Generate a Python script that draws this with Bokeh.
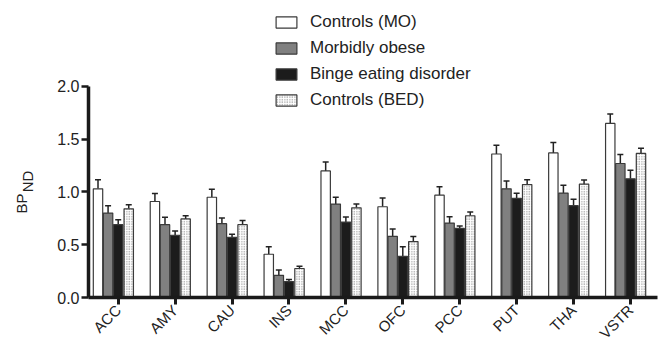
import numpy as np
from bokeh.plotting import figure
from bokeh.layouts import row
from bokeh.core.properties import value
from bokeh.models import (ColumnDataSource, FixedTicker, Range1d, Legend, LegendItem,
                          Whisker, TeeHead, NumeralTickFormatter)
from bokeh.embed import file_html
from bokeh.resources import INLINE

regions = ["ACC", "AMY", "CAU", "INS", "MCC", "OFC", "PCC", "PUT", "THA", "VSTR"]
groups = ["Controls (MO)", "Morbidly obese", "Binge eating disorder", "Controls (BED)"]

controls_mo = [1.03, 0.91, 0.95, 0.41, 1.20, 0.86, 0.97, 1.36, 1.37, 1.65]
controls_mo_err = [0.085, 0.076, 0.076, 0.07, 0.085, 0.082, 0.079, 0.082, 0.10, 0.088]
morbidly_obese = [0.80, 0.69, 0.70, 0.21, 0.885, 0.58, 0.705, 1.03, 0.99, 1.27]
morbidly_obese_err = [0.07, 0.07, 0.054, 0.05, 0.066, 0.07, 0.06, 0.073, 0.073, 0.085]
binge_eating = [0.69, 0.59, 0.57, 0.15, 0.715, 0.39, 0.655, 0.94, 0.87, 1.125]
binge_eating_err = [0.047, 0.04, 0.03, 0.02, 0.047, 0.09, 0.023, 0.047, 0.06, 0.082]
controls_bed = [0.84, 0.745, 0.69, 0.275, 0.85, 0.53, 0.775, 1.07, 1.075, 1.365]
controls_bed_err = [0.038, 0.03, 0.04, 0.022, 0.035, 0.047, 0.035, 0.045, 0.038, 0.05]

y_ticks = [0.0, 0.5, 1.0, 1.5, 2.0]
y_label_main = "BP"
y_label_sub = "ND"

series = [controls_mo, morbidly_obese, binge_eating, controls_bed]
errors = [controls_mo_err, morbidly_obese_err, binge_eating_err, controls_bed_err]
offsets = [-0.355, -0.178, 0.0, 0.185]
fills = ["white", "#808080", "#1c1c1c", "white"]
hatches = [None, None, None, "dot"]
FONT = "Liberation Sans"
TEXT = "#222222"

# ---- main chart ----
p = figure(frame_width=569, frame_height=289, output_backend="svg", toolbar_location=None,
           x_range=Range1d(-0.522, 9.475), y_range=Range1d(0, 2.739),
           min_border_left=48, min_border_top=8, min_border_right=5, min_border_bottom=5)
p.outline_line_color = None
p.grid.visible = False
p.background_fill_color = "white"

xs = np.arange(len(regions))
items = []
for vals, errs, off, fc, hp, name in zip(series, errors, offsets, fills, hatches, groups):
    src = ColumnDataSource(dict(x=xs + off, top=vals,
                                upper=np.array(vals) + np.array(errs), lower=vals))
    kw = {}
    if hp:
        kw = dict(hatch_pattern=hp, hatch_scale=2.5, hatch_color="#707070", hatch_weight=1)
    w = Whisker(source=src, base="x", upper="upper", lower="lower", dimension="height",
                line_color=TEXT, line_width=1.5, lower_head=None,
                upper_head=TeeHead(size=6, line_color=TEXT, line_width=1.5))
    p.add_layout(w)
    r = p.vbar(x="x", top="top", width=0.165, source=src, fill_color=fc,
               line_color="#3a3a3a", line_width=1.2, **kw)
    items.append(LegendItem(label=name, renderers=[r]))

legend = Legend(items=items, location=(185, 187), glyph_width=26, glyph_height=14,
                label_height=17, spacing=6, label_standoff=11, padding=0, margin=0,
                border_line_color=None, background_fill_alpha=0,
                label_text_font=FONT, label_text_font_size="17px", label_text_color=TEXT)
p.add_layout(legend)

p.yaxis.bounds = (0, 2)
p.yaxis.ticker = FixedTicker(ticks=y_ticks)
p.yaxis.formatter = NumeralTickFormatter(format="0.0")
p.xaxis.ticker = FixedTicker(ticks=list(xs))
p.xaxis.major_label_overrides = {int(i): r for i, r in zip(xs, regions)}
p.xaxis.major_label_orientation = np.pi / 4
p.yaxis.minor_tick_line_color = None
p.xaxis.minor_tick_line_color = None
for ax in (p.xaxis, p.yaxis):
    ax.axis_line_width = 3.5
    ax.axis_line_color = "#1a1a1a"
    ax.major_tick_line_color = "#1a1a1a"
    ax.major_tick_in = 0
    ax.major_tick_out = 7
    ax.major_label_text_font = FONT
    ax.major_label_text_color = TEXT
p.yaxis.major_tick_line_width = 2.5
p.xaxis.major_tick_line_width = 3
p.yaxis.major_label_text_font_size = "16px"
p.xaxis.major_label_text_font_size = "15px"
p.yaxis.major_label_standoff = 2
p.xaxis.major_label_standoff = 3

# ---- y-axis title strip (BP with subscript ND) ----
lab = figure(frame_width=40, frame_height=289, output_backend="svg", toolbar_location=None,
             x_range=Range1d(0, 40), y_range=Range1d(0, 289),
             x_axis_type=None, y_axis_type=None,
             min_border_left=0, min_border_right=0, min_border_top=8, min_border_bottom=0)
lab.outline_line_color = None
lab.grid.visible = False
lab.text(x=[21.2], y=[94], text=[y_label_main], angle=np.pi / 2,
         text_align="center", text_baseline="middle", text_font=value(FONT),
         text_font_size="15px", text_color=TEXT)
lab.text(x=[27.4], y=[116], text=[y_label_sub], angle=np.pi / 2,
         text_align="center", text_baseline="middle", text_font=value(FONT),
         text_font_size="15px", text_color=TEXT)

layout = row(lab, p, spacing=0)
open("out.html", "w").write(file_html(layout, INLINE))
